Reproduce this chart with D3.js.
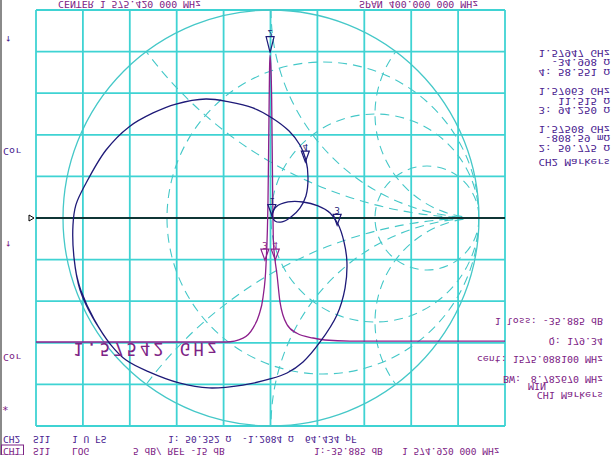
<!DOCTYPE html>
<html>
<head>
<meta charset="utf-8">
<script src="https://cdn.jsdelivr.net/npm/d3@7"></script>
<style>
  body { margin: 0; background: #fff; }
  svg { display: block; }
</style>
</head>
<body>
<div id="vis"></div>
<script>
const WIDTH = 614;
const HEIGHT = 455;

// grid box of the analyzer screen
const GRID = { left: 36, right: 505, top: 10, bottom: 426 };
const SMITH = { cx: 271, cy: 218, r: 208 };

const CYAN = '#3fd3d3';
const PURPLE = '#8c1f8c';
const NAVY = '#1e1a78';
const TXT1 = '#7d2385';
const TXT2 = '#4a2390';

// CH1 : log mag of S11
const FREQ_MHZ = [1375.42, 1537.5, 1552.0, 1560.5, 1565.6, 1569.0, 1571.6, 1573.3, 1574.1, 1574.6,
  1574.92, 1575.6, 1576.4, 1577.2, 1577.9, 1579.2, 1580.9, 1583.5, 1589.5, 1598.0, 1611.7, 1621.9, 1643.2, 1775.42];
const MAG_DB = [0, 0, -0.45, -1.6, -3.1, -5.1, -8.9, -16.3, -25.5, -31.2,
  -32.88, -32.0, -28, -18, -11.5, -9.5, -7.8, -4.6, -2.0, -1.0, -0.46, -0.23, -0.1, -0.1];

// CH2 : smith chart of S11 (reflection coefficient)
const GAMMA_RE = [-0.774, -0.856, -0.918, -0.947, -0.952, -0.938, -0.889, -0.793, -0.683, -0.567, -0.457,
  -0.313, -0.202, -0.087, 0.005, 0.087, 0.139, 0.168, 0.178, 0.168, 0.139, 0.096, 0.053, 0.019, 0.005,
  0.024, 0.082, 0.154, 0.226, 0.284, 0.322, 0.351, 0.365, 0.356, 0.317, 0.236, 0.154, 0.077, -0.005,
  -0.135, -0.298, -0.442, -0.587, -0.697, -0.769, -0.851, -0.913, -0.938];
const GAMMA_IM = [0.606, 0.481, 0.346, 0.192, 0.034, -0.063, -0.168, -0.327, -0.438, -0.505, -0.548,
  -0.572, -0.558, -0.529, -0.481, -0.418, -0.351, -0.279, -0.192, -0.106, -0.048, -0.005, 0.019, 0.014, -0.014,
  -0.053, -0.077, -0.077, -0.058, -0.024, 0.029, 0.115, 0.212, 0.337, 0.466, 0.596, 0.692, 0.745, 0.774,
  0.803, 0.817, 0.793, 0.740, 0.683, 0.611, 0.486, 0.351, 0.260];

// smith graticule
const R_CIRCLES = [1 / 3, 1, 3];
const X_ARCS = [0.5, 1, 2, -0.5, -1, -2];

// markers
const CH1_MARKERS = [
  { n: '2', f: 1575.08, db: -33.2, h: 16 },
  { n: '3', f: 1570.63, db: -9.4, h: 11 },
  { n: '4', f: 1579.47, db: -9.4, h: 11 }
];
const CH2_MARKERS = [
  { n: '1', re: 0.004, im: -0.012 },
  { n: '3', re: 0.318, im: 0.035 },
  { n: '4', re: 0.165, im: -0.269 }
];

const TOP_TEXT = ['CENTER 1 575.420 000 MHz', 'SPAN 400.000 000 MHz'];
const CH2_LINES = ['1.57947 GHz', '-34.998 \u03A9', '4: 58.551 \u03A9', '1.57063 GHz', '11.515 \u03A9',
  '3: 94.250 \u03A9', '1.57508 GHz', '-808.59 m\u03A9', '2: 50.775 \u03A9', 'CH2 Markers'];
const CH2_LINE_Y = [52.7, 62, 71.5, 91, 100.5, 110, 129, 138, 147.5, 162.3];
const CH1_LINES = ['1 loss: -35.885 dB', 'Q: 179.34', 'cent: 1575.088100 MHz', '8.782670 MHz', 'CH1 Markers'];
const CH1_LINE_Y = [320.7, 340.7, 359, 379, 395];
const BOTTOM_CH2 = [['CH2', 3], ['S11', 33], ['1 U FS', 72], ['1: 50.352 \u03A9', 168], ['-1.2084 \u03A9', 242], ['64.434 pF', 305]];
const BOTTOM_CH1 = [['CH1', 3], ['S11', 33], ['LOG', 72], ['5 dB/ REF -15 dB', 133], ['1:-35.885 dB', 314], ['1 574.920 000 MHz', 402]];
const BIG_LABEL = '1.57542 GHz';

const svg = d3.select('#vis').append('svg')
  .attr('width', WIDTH)
  .attr('height', HEIGHT)
  .style('font-family', '"DejaVu Sans Mono", monospace');

svg.append('rect').attr('width', WIDTH).attr('height', HEIGHT).attr('fill', '#fff');
svg.append('rect').attr('width', 2).attr('height', HEIGHT).attr('fill', '#8a8a8a');

// scales
const x = d3.scaleLinear().domain([1375.42, 1775.42]).range([GRID.left, GRID.right]);
const y = d3.scaleLinear().domain([-35, 0]).range([37, 342]);   // screen is shown upside down
const gx = d3.scaleLinear().domain([-1, 1]).range([SMITH.cx - SMITH.r, SMITH.cx + SMITH.r]);
const gy = d3.scaleLinear().domain([-1, 1]).range([SMITH.cy - SMITH.r, SMITH.cy + SMITH.r]);

// grid 10 x 10
const grid = svg.append('g').attr('stroke', CYAN).attr('stroke-width', 1.8);
d3.range(11).forEach(i => {
  const xx = GRID.left + i * (GRID.right - GRID.left) / 10;
  const yy = GRID.top + i * (GRID.bottom - GRID.top) / 10;
  grid.append('line').attr('x1', xx).attr('x2', xx).attr('y1', GRID.top).attr('y2', GRID.bottom);
  grid.append('line').attr('y1', yy).attr('y2', yy).attr('x1', GRID.left).attr('x2', GRID.right);
});

// smith chart
svg.append('clipPath').attr('id', 'unit')
  .append('circle').attr('cx', SMITH.cx).attr('cy', SMITH.cy).attr('r', SMITH.r);

const sm = svg.append('g').attr('fill', 'none').attr('stroke', '#45c8c8');
const dashed = sm.append('g').attr('clip-path', 'url(#unit)')
  .attr('stroke-dasharray', '9,6').attr('stroke-width', 1.1);
R_CIRCLES.forEach(r => {
  dashed.append('circle')
    .attr('cx', gx(r / (1 + r))).attr('cy', gy(0))
    .attr('r', gx(1 / (1 + r)) - gx(0));
});
X_ARCS.forEach(v => {
  dashed.append('circle')
    .attr('cx', gx(1)).attr('cy', gy(1 / v))
    .attr('r', gx(1 / Math.abs(v)) - gx(0));
});
sm.append('circle').attr('cx', SMITH.cx).attr('cy', SMITH.cy).attr('r', SMITH.r).attr('stroke-width', 1.3);

// reference line + position arrow
svg.append('line').attr('x1', GRID.left).attr('x2', GRID.right)
  .attr('y1', SMITH.cy).attr('y2', SMITH.cy).attr('stroke', '#000').attr('stroke-width', 1.3);
svg.append('path').attr('d', `M29,${SMITH.cy - 3}L34,${SMITH.cy}L29,${SMITH.cy + 3}Z`)
  .attr('fill', '#fff').attr('stroke', '#000').attr('stroke-width', 1);

// CH1 trace
const magLine = d3.line().x((d, i) => x(FREQ_MHZ[i])).y(d => y(d)).curve(d3.curveMonotoneX);
svg.append('path').attr('d', magLine(MAG_DB))
  .attr('fill', 'none').attr('stroke', PURPLE).attr('stroke-width', 1.3);

// CH2 trace
const smithLine = d3.line().x((d, i) => gx(GAMMA_RE[i])).y((d, i) => gy(GAMMA_IM[i])).curve(d3.curveCatmullRom);
svg.append('path').attr('d', smithLine(GAMMA_RE))
  .attr('fill', 'none').attr('stroke', NAVY).attr('stroke-width', 1.3);

// flipped text (the whole screen photo is upside down); cy = middle of the glyphs
function ftext(g, px, cy, str, size, color, anchor, sx) {
  const top = cy - size * 0.365;
  return g.append('text')
    .attr('transform', `translate(${px},${top}) scale(${sx || 1},-1)`)
    .attr('font-size', size)
    .attr('fill', color)
    .attr('text-anchor', anchor || 'start')
    .text(str);
}

function marker(px, py, label, color, h) {
  const g = svg.append('g');
  h = h || 11;
  g.append('path').attr('d', `M${px - 4},${py - h}L${px + 4},${py - h}L${px},${py}Z`)
    .attr('fill', 'none').attr('stroke', color).attr('stroke-width', 1.2);
  ftext(g, px, py - h - 4, label, 8, color, 'middle', 1.1);
}

CH1_MARKERS.forEach(m => marker(x(m.f), y(m.db), m.n, m.n === '2' ? NAVY : PURPLE, m.h));
CH2_MARKERS.forEach(m => marker(gx(m.re), gy(m.im), m.n, NAVY));

const t = svg.append('g');
ftext(t, 58, 4.5, TOP_TEXT[0], 9, TXT1, 'start', 1.1);
ftext(t, 359, 4.5, TOP_TEXT[1], 9, TXT1, 'start', 1.1);

CH2_LINES.forEach((s, i) => ftext(t, 610, CH2_LINE_Y[i], s, 8, TXT2, 'end', 1.35));
CH1_LINES.forEach((s, i) => ftext(t, 603, CH1_LINE_Y[i], s, 8, TXT1, 'end', 1.25));
ftext(t, 503, 379, 'BW:', 8, TXT1, 'start', 1.25);
ftext(t, 528, 386.3, 'MIN', 8, TXT1, 'start', 1.25);

BOTTOM_CH2.forEach(d => ftext(t, d[1], 439, d[0], 9, TXT2, 'start', 1.06));
BOTTOM_CH1.forEach(d => ftext(t, d[1], 451, d[0], 9, TXT1, 'start', 1.06));
svg.append('rect').attr('x', 1.5).attr('y', 445).attr('width', 22).attr('height', 10)
  .attr('fill', 'none').attr('stroke', TXT1).attr('stroke-width', 1);

ftext(t, 5, 40, '\u2191', 10, TXT2);
ftext(t, 3, 151, 'Cor', 9, TXT2, 'start', 1.1);
ftext(t, 5, 245, '\u2191', 10, TXT1);
ftext(t, 3, 357, 'Cor', 9, TXT1, 'start', 1.1);
ftext(t, 2, 407, '*', 11, TXT1);

ftext(t, 73, 349, BIG_LABEL, 17, TXT1).attr('textLength', 144).attr('lengthAdjust', 'spacing');
</script>
</body>
</html>
